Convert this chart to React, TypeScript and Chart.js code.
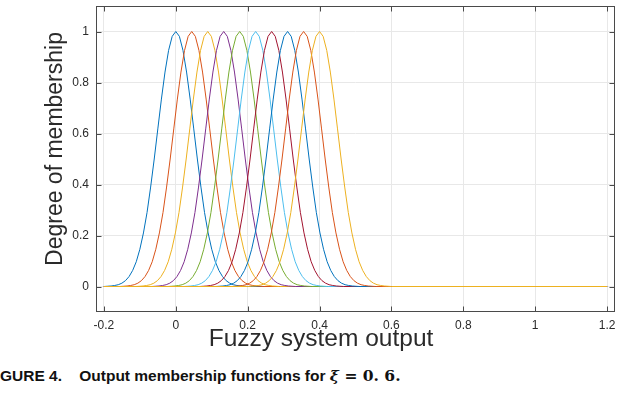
import React, { useEffect, useRef } from "react";
import { Chart, registerables } from "chart.js";

Chart.register(...registerables);

// Centers of the ten output membership functions (peaks)
const centers = [0, 0.0444, 0.0889, 0.1333, 0.1778, 0.2222, 0.2667, 0.3111, 0.3556, 0.4];

// Shape of one membership function (offset from its center -> degree)
const profileOffsets = [
  -0.2, -0.19, -0.18, -0.17, -0.16, -0.15, -0.14, -0.13, -0.12, -0.11, -0.1,
  -0.09, -0.08, -0.07, -0.06, -0.05, -0.04, -0.03, -0.02, -0.01, 0,
  0.01, 0.02, 0.03, 0.04, 0.05, 0.06, 0.07, 0.08, 0.09, 0.1,
  0.11, 0.12, 0.13, 0.14, 0.15, 0.16, 0.17, 0.18, 0.19, 0.2,
];
const profileValues = [
  0, 0.001, 0.002, 0.004, 0.007, 0.013, 0.023, 0.039, 0.063, 0.097, 0.146,
  0.21, 0.29, 0.39, 0.5, 0.618, 0.735, 0.841, 0.926, 0.981, 1,
  0.981, 0.926, 0.841, 0.735, 0.618, 0.5, 0.39, 0.29, 0.21, 0.146,
  0.097, 0.063, 0.039, 0.023, 0.013, 0.007, 0.004, 0.002, 0.001, 0,
];

const domain = [-0.2, 1.2];
const xTickValues = [-0.2, 0, 0.2, 0.4, 0.6, 0.8, 1, 1.2];
const yTickValues = [0, 0.2, 0.4, 0.6, 0.8, 1];
const xRange = [-0.222, 1.222];
const yRange = [-0.1, 1.1];

const seriesColors = [
  "#0072BD", "#D95319", "#EDB120", "#7E2F8E", "#77AC30",
  "#4DBEEE", "#A2142F", "#0072BD", "#D95319", "#EDB120",
];

const xTitle = "Fuzzy system output";
const yTitle = "Degree of membership";

const AXIS_COLOR = "#4a4a4a";
const TEXT_COLOR = "#2a2a2a";
const FONT = "'Liberation Sans', Arial, Helvetica, sans-serif";

const boxPlugin = {
  id: "matlabBox",
  afterDatasetsDraw(chart: any) {
    const { ctx, chartArea: a, scales } = chart;
    const L = Math.round(a.left) + 0.5;
    const R = Math.round(a.right) - 0.5;
    const T = Math.round(a.top) + 0.5;
    const B = Math.round(a.bottom) - 0.5;
    ctx.save();
    ctx.strokeStyle = AXIS_COLOR;
    ctx.lineWidth = 1;
    ctx.strokeRect(L, T, R - L, B - T);
    const tl = 5;
    ctx.beginPath();
    for (const v of xTickValues) {
      const px = Math.round(scales.x.getPixelForValue(v)) + 0.5;
      ctx.moveTo(px, B);
      ctx.lineTo(px, B - tl);
      ctx.moveTo(px, T);
      ctx.lineTo(px, T + tl);
    }
    for (const v of yTickValues) {
      const py = Math.round(scales.y.getPixelForValue(v)) + 0.5;
      ctx.moveTo(L, py);
      ctx.lineTo(L + tl, py);
      ctx.moveTo(R, py);
      ctx.lineTo(R - tl, py);
    }
    ctx.stroke();
    // axis titles, placed as in the original figure
    ctx.fillStyle = TEXT_COLOR;
    ctx.textAlign = "center";
    ctx.textBaseline = "alphabetic";
    ctx.font = `24.5px ${FONT}`;
    ctx.fillText(xTitle, 321, 346);
    ctx.translate(62, 149);
    ctx.rotate(-Math.PI / 2);
    ctx.font = `23px ${FONT}`;
    ctx.fillText(yTitle, 0, 0);
    ctx.restore();
  },
};

export default function App() {
  const canvasRef = useRef<HTMLCanvasElement | null>(null);

  useEffect(() => {
    if (!canvasRef.current) return;
    const datasets = centers.map((c, i) => {
      const pts: { x: number; y: number }[] = [];
      if (c + profileOffsets[0] > domain[0] + 1e-9) pts.push({ x: domain[0], y: 0 });
      profileOffsets.forEach((o, k) => pts.push({ x: c + o, y: profileValues[k] }));
      pts.push({ x: domain[1], y: 0 });
      return {
        label: "mf" + (i + 1),
        data: pts,
        borderColor: seriesColors[i],
        borderWidth: 1,
        pointRadius: 0,
        tension: 0,
        fill: false,
        order: centers.length - i,
      };
    });

    const chart = new Chart(canvasRef.current, {
      type: "line",
      data: { datasets },
      plugins: [boxPlugin],
      options: {
        animation: false,
        responsive: false,
        maintainAspectRatio: false,
        layout: { padding: { top: 6, right: 7, left: 0, bottom: 0 } },
        plugins: { legend: { display: false }, tooltip: { enabled: false } },
        scales: {
          x: {
            type: "linear",
            min: xRange[0],
            max: xRange[1],
            afterBuildTicks: (s: any) => {
              s.ticks = xTickValues.map((v) => ({ value: v }));
            },
            afterFit: (s: any) => {
              s.height = 48;
              s.paddingLeft = 0;
              s.paddingRight = 0;
            },
            ticks: {
              autoSkip: false,
              maxRotation: 0,
              padding: 6,
              color: TEXT_COLOR,
              font: { family: FONT, size: 12 },
              callback: (v: any) => String(Math.round(Number(v) * 10) / 10),
            },
            grid: { color: "#e8e8e8", drawTicks: false },
            border: { display: false },
          },
          y: {
            type: "linear",
            min: yRange[0],
            max: yRange[1],
            afterBuildTicks: (s: any) => {
              s.ticks = yTickValues.map((v) => ({ value: v }));
            },
            afterFit: (s: any) => {
              s.width = 96;
              s.paddingTop = 0;
              s.paddingBottom = 0;
            },
            ticks: {
              padding: 7,
              color: TEXT_COLOR,
              font: { family: FONT, size: 12 },
              callback: (v: any) => String(Math.round(Number(v) * 10) / 10),
            },
            grid: { color: "#e8e8e8", drawTicks: false },
            border: { display: false },
          },
        },
      },
    } as any);
    return () => chart.destroy();
  }, []);

  return (
    <div style={{ position: "fixed", left: 0, top: 0, width: 622, height: 398, background: "#fff", overflow: "hidden" }}>
      <canvas ref={canvasRef} width={622} height={360} style={{ display: "block", width: 622, height: 360 }} />
      <div
        style={{
          position: "absolute",
          left: 0,
          top: 366,
          whiteSpace: "pre",
          fontFamily: "'Liberation Sans', Arial, sans-serif",
          fontWeight: "bold",
          fontSize: 15.5,
          color: "#111",
        }}
      >
        {"GURE 4.    Output membership functions for "}
        <span style={{ fontFamily: "'DejaVu Serif', serif", fontStyle: "italic", fontWeight: "bold" }}>ξ</span>
        <span style={{ fontFamily: "'DejaVu Serif', serif", fontWeight: "bold" }}>{" = 0. 6."}</span>
      </div>
    </div>
  );
}
